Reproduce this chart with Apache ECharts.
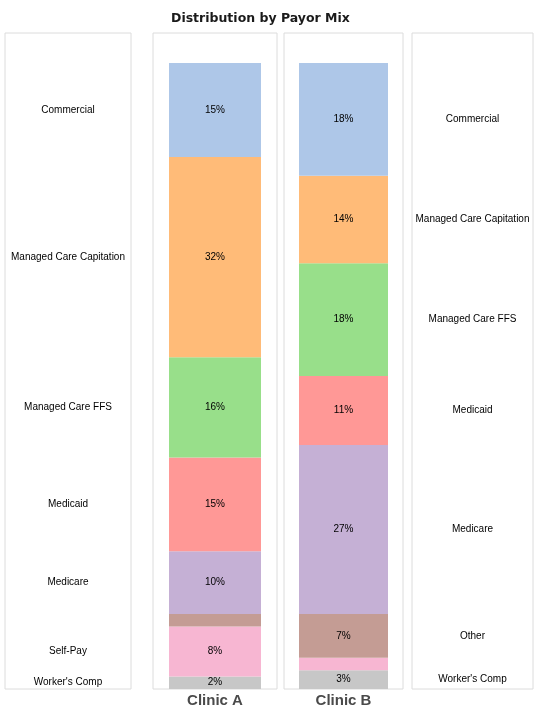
<!DOCTYPE html>
<html>
<head>
<meta charset="utf-8">
<script src="https://cdn.jsdelivr.net/npm/echarts@6/dist/echarts.min.js"></script>
<style>
  html, body { margin: 0; padding: 0; background: #fff; }
  #chart { width: 550px; height: 715px; }
</style>
</head>
<body>
<div id="chart"></div>
<script>
// Payor categories, stacked from bottom to top
var payors = ["Worker's Comp", "Self-Pay", "Other", "Medicare", "Medicaid", "Managed Care FFS", "Managed Care Capitation", "Commercial"];
var clinics = ["Clinic A", "Clinic B"];
var clinicA = [2, 8, 2, 10, 15, 16, 32, 15];
var clinicB = [3, 2, 7, 27, 11, 18, 14, 18];
var hiddenA = ["Other"];
var hiddenB = ["Self-Pay"];
var colors = ["#c7c7c7", "#f7b6d2", "#c49c94", "#c5b0d5", "#ff9896", "#98df8a", "#ffbb78", "#aec7e8"];

var chart = echarts.init(document.getElementById('chart'));

// panel geometry: [left, width]
var panels = [[5, 126], [153, 124], [284, 119], [412, 121]];
var gridTop = 33, gridBottom = 26;
var yMax = 104.8;

var grids = [], xAxes = [], yAxes = [], series = [];
panels.forEach(function (p, i) {
  grids.push({
    left: p[0], width: p[1], top: gridTop, bottom: gridBottom,
    show: true, borderColor: '#dcdcdc', borderWidth: 1, backgroundColor: '#fff'
  });
  var isBar = (i === 1 || i === 2);
  var cat = (i <= 1) ? clinics[0] : clinics[1];
  xAxes.push({
    type: 'category', gridIndex: i, data: [cat],
    axisLine: { show: false }, axisTick: { show: false },
    axisLabel: {
      show: isBar, margin: 4, color: '#4a4a4a',
      fontFamily: 'Liberation Sans, Arial, sans-serif', fontWeight: 'bold', fontSize: 15
    }
  });
  yAxes.push({
    type: 'value', gridIndex: i, min: 0, max: yMax,
    show: false, splitLine: { show: false }
  });
});

function addSeries(gridIdx, values, hidden, isBar, barW) {
  payors.forEach(function (name, k) {
    var show = hidden.indexOf(name) < 0;
    series.push({
      type: 'bar', name: name, xAxisIndex: gridIdx, yAxisIndex: gridIdx,
      stack: 'g' + gridIdx, barWidth: barW, silent: true,
      data: [values[k]],
      itemStyle: { color: isBar ? colors[k] : 'rgba(0,0,0,0)' },
      label: {
        show: show, position: 'inside', color: '#000',
        fontFamily: 'Liberation Sans, Arial, sans-serif', fontSize: 10,
        formatter: isBar ? function (p) { return p.value + '%'; } : function (p) { return p.seriesName; }
      }
    });
  });
}
addSeries(0, clinicA, hiddenA, false, '100%');
addSeries(1, clinicA, hiddenA, true, 92);
addSeries(2, clinicB, hiddenB, true, 89);
addSeries(3, clinicB, hiddenB, false, '100%');

chart.setOption({
  animation: false,
  backgroundColor: '#fff',
  title: {
    text: 'Distribution by Payor Mix', left: 166, top: 7,
    textStyle: { fontFamily: 'DejaVu Sans', fontWeight: 'bold', fontSize: 12.5, color: '#1a1a1a' }
  },
  grid: grids, xAxis: xAxes, yAxis: yAxes, series: series
});
</script>
</body>
</html>
